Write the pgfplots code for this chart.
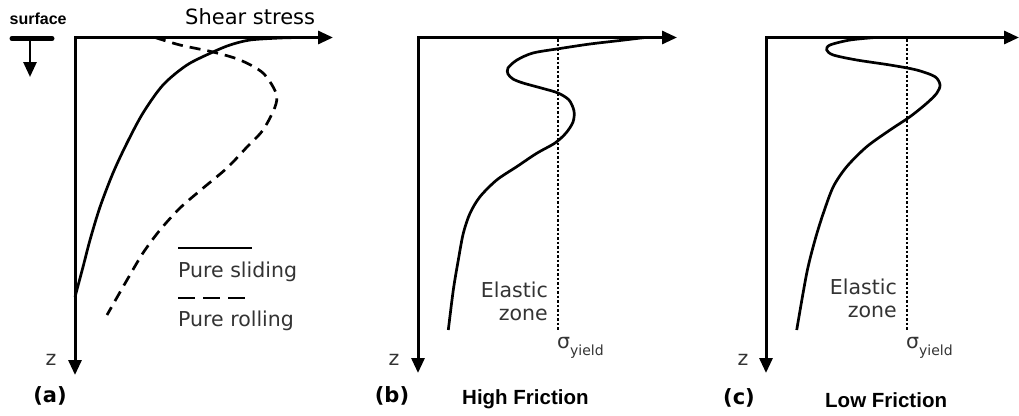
\documentclass[border=0pt]{standalone}
\usepackage{pgfplots}
\pgfplotsset{compat=1.18}
\usetikzlibrary{arrows.meta}
\usepackage{fontspec}
\setmainfont{DejaVu Sans}
\newfontfamily\arial{Liberation Sans}
\definecolor{txt}{HTML}{333333}
\tikzset{ah/.style={-{Triangle[length=15pt,width=13pt]}},
         ahh/.style={{Triangle[length=15pt,width=13pt]}-{Triangle[length=15pt,width=13pt]}}}
\newcommand{\lab}{\fontsize{20.5}{23}\selectfont\color{txt}}
\newcommand{\sy}{σ\raisebox{-7pt}{\fontsize{14}{14}\selectfont yield}}
\begin{document}
\begin{tikzpicture}
\begin{axis}[width=1019pt,height=415pt,scale only axis,
  xmin=0,xmax=1019,ymin=0,ymax=415,y dir=reverse,
  hide axis,clip=false,xtick=\empty,ytick=\empty]
% ---------- panel (a)
\addplot[ahh,line width=3pt,line join=miter] coordinates {(75,375) (75,37.5) (333,37.5)};
\addplot[line width=5pt,line cap=round] coordinates {(12,38.5) (52,38.5)};
\addplot[ah,line width=2.7pt] coordinates {(30,38.5) (30,77)};
% pure sliding
\addplot[line width=2.7pt,smooth] coordinates {
(300,37.5) (280,38) (250,40) (230,45) (213,52) (187,65) (163,85) (143,113) (127,143) (113,173) (100,207) (90,240) (83,267) (75,297)};
% pure rolling
\addplot[line width=2.7pt,smooth,dash pattern=on 11pt off 7pt] coordinates {
(155,37.5) (180,45) (213,52) (240,60) (263,73) (276,93) (275,107) (263,130) (247,147) (227,168) (202,189) (180,208) (160,230) (143,253) (127,280) (107,315)};
% legend
\addplot[line width=2.8pt] coordinates {(178,248) (252,248)};
\addplot[line width=2.8pt,dash pattern=on 17pt off 8pt] coordinates {(178,298) (250,298)};
\node[anchor=base west,inner sep=0pt] at (axis cs:178,277) {\lab Pure sliding};
\node[anchor=base west,inner sep=0pt] at (axis cs:178,326) {\lab Pure rolling};
\node[anchor=base west,inner sep=0pt] at (axis cs:185,24) {\fontsize{21}{24}\selectfont Shear stress};
\node[anchor=base west,inner sep=0pt] at (axis cs:9.5,24.5) {\fontsize{16}{18}\selectfont\arial\bfseries surface};
\node[anchor=base,inner sep=0pt] at (axis cs:51,365) {\lab z};
\node[anchor=base,inner sep=0pt] at (axis cs:50,402) {\fontsize{21}{24}\selectfont\bfseries (a)};
% ---------- panel (b)
\addplot[ahh,line width=3pt,line join=miter] coordinates {(418,373) (418,37.5) (677,37.5)};
\addplot[line width=2.5pt,dash pattern=on 2.5pt off 2pt] coordinates {(558,39) (558,330)};
\addplot[line width=2.7pt,smooth] coordinates {
(645,37.5) (620,40.5) (590,44) (560,48.5) (533,53) (517,60) (508,68) (508,74) (513,79) (523,83) (543,88.5) (558,93) (569,100) (574,111) (573,122) (566,133) (555,143) (536.7,153.3) (516.7,166.7) (496.7,180) (480,196.7) (470,213.3) (463.3,233.3) (458.3,260) (453.3,290) (448.3,330)};
\node[anchor=base east,inner sep=0pt] at (axis cs:548,297) {\lab Elastic};
\node[anchor=base east,inner sep=0pt] at (axis cs:548,320) {\lab zone};
\node[anchor=base west,inner sep=0pt] at (axis cs:557,348) {\lab\sy};
\node[anchor=base,inner sep=0pt] at (axis cs:394,365) {\lab z};
\node[anchor=base,inner sep=0pt] at (axis cs:392,402) {\fontsize{21}{24}\selectfont\bfseries (b)};
\node[anchor=base west,inner sep=0pt] at (axis cs:462,404) {\fontsize{20.5}{24}\selectfont\arial\bfseries High Friction};
% ---------- panel (c)
\addplot[ahh,line width=3pt,line join=miter] coordinates {(766,373) (766,37.5) (1019,37.5)};
\addplot[line width=2.5pt,dash pattern=on 2.5pt off 2pt] coordinates {(907,39) (907,330)};
\addplot[line width=2.7pt,smooth] coordinates {
(875,37.5) (850,40) (830,45) (826.7,50) (833.3,55) (856.7,60) (890,65) (916.7,70) (935,76.7) (940,85) (936.7,93.3) (926.7,103.3) (910,116.7) (890,130) (866.7,146.7) (846.7,166.7) (833.3,186.7) (823.3,213.3) (815,240) (806.7,273.3) (796.7,330)};
\node[anchor=base east,inner sep=0pt] at (axis cs:897,294) {\lab Elastic};
\node[anchor=base east,inner sep=0pt] at (axis cs:897,317) {\lab zone};
\node[anchor=base west,inner sep=0pt] at (axis cs:906,348) {\lab\sy};
\node[anchor=base,inner sep=0pt] at (axis cs:743,365) {\lab z};
\node[anchor=base,inner sep=0pt] at (axis cs:739,404) {\fontsize{21}{24}\selectfont\bfseries (c)};
\node[anchor=base west,inner sep=0pt] at (axis cs:825,407) {\fontsize{20.5}{24}\selectfont\arial\bfseries Low Friction};
\end{axis}
\pgfresetboundingbox
\path (current axis.south west) rectangle (current axis.north east);
\end{tikzpicture}
\end{document}
